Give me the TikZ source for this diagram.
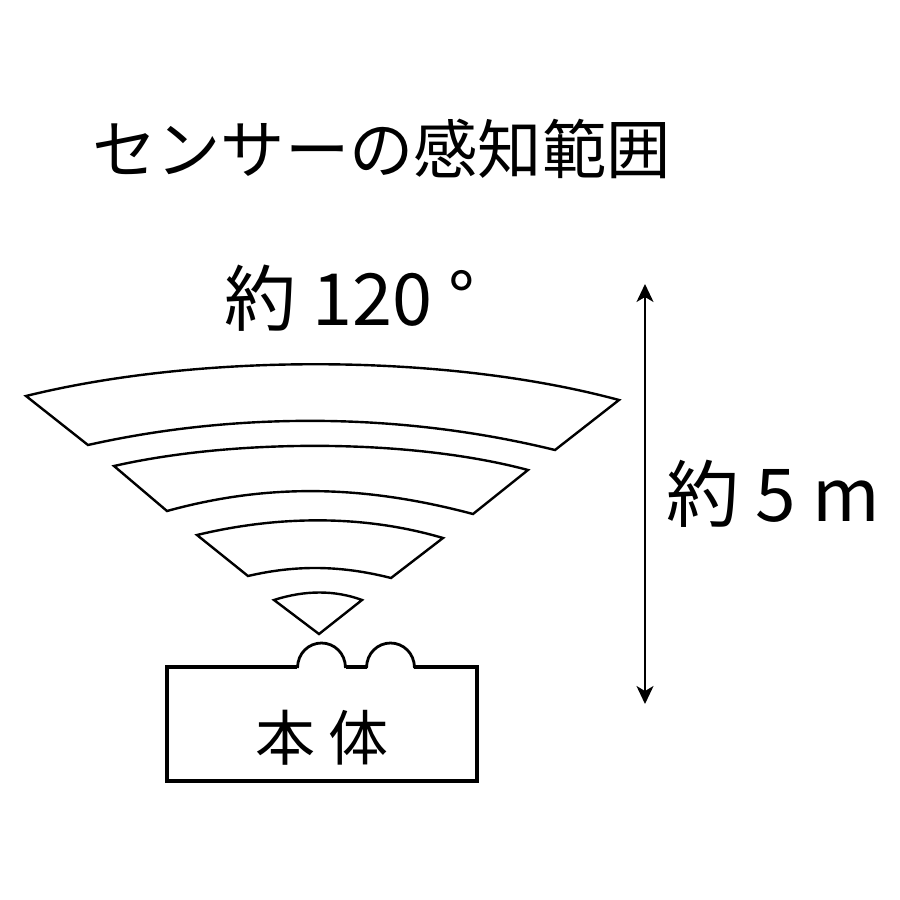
\documentclass[tikz,border=0pt]{standalone}
\usepackage{fontspec}
\usetikzlibrary{arrows.meta}
\newfontfamily\cjk{Noto Sans CJK JP}
\tikzset{
  px/.style={x=1pt,y=-1pt},
  wave/.style={draw=black,line width=2.4pt,line join=miter,fill=white},
  boxline/.style={draw=black,line width=3.6pt,line join=miter},
  bump/.style={draw=black,line width=2.8pt},
  lbl/.style={inner sep=0pt,outer sep=0pt,anchor=center,text=black},
  dim/.style={draw=black,line width=2pt,{Stealth[length=18pt,width=17pt,inset=5pt]}-{Stealth[length=18pt,width=17pt,inset=5pt]}}
}
\begin{document}
\begin{tikzpicture}[px]
\useasboundingbox (0,0) rectangle (900,900);
\fill[white] (0,0) rectangle (900,900);
\node[lbl] (title) at (381.5,149) {\fontsize{64.3}{64.3}\selectfont\cjk センサーの感知範囲};
\node[lbl] (angle) at (350,298) {\fontsize{72}{72}\selectfont\cjk 約 120 °};
\node[lbl] (dist) at (773,494) {\fontsize{73}{73}\selectfont\cjk 約 5 m};
\draw[wave] (26,396) .. controls (200,353) and (445,353) .. (619,400) -- (555,450) .. controls (400,412) and (235,412) .. (88,445) -- cycle;
\draw[wave] (114,466) .. controls (235,438.5) and (410,438.5) .. (528,470) -- (473,514) .. controls (360,484) and (265,484) .. (167,511) -- cycle;
\draw[wave] (197,535) .. controls (280,515) and (365,515) .. (443,538) -- (391,578) .. controls (340,565) and (295,565) .. (248,576) -- cycle;
\draw[wave] (274,600) .. controls (305,590) and (335,590) .. (362,600) -- (319,634) -- cycle;
\draw[boxline] (297,667) -- (167,667) -- (167,781) -- (477,781) -- (477,667) -- (414,667);
\draw[boxline] (346,667) -- (367,667);
\draw[bump] (297.5,668) .. controls (297.5,653) and (309,643) .. (321.5,643) .. controls (334,643) and (345.5,653) .. (345.5,668);
\draw[bump] (366.5,668) .. controls (366.5,653) and (378,643) .. (390.5,643) .. controls (403,643) and (414.5,653) .. (414.5,668);
\node[lbl] (body) at (322,738) {\fontsize{60}{60}\selectfont\cjk 本 体};
\coordinate (top) at (645,284);
\coordinate (bot) at (645,704);
\draw[dim] (top) -- (bot);
\end{tikzpicture}
\end{document}
